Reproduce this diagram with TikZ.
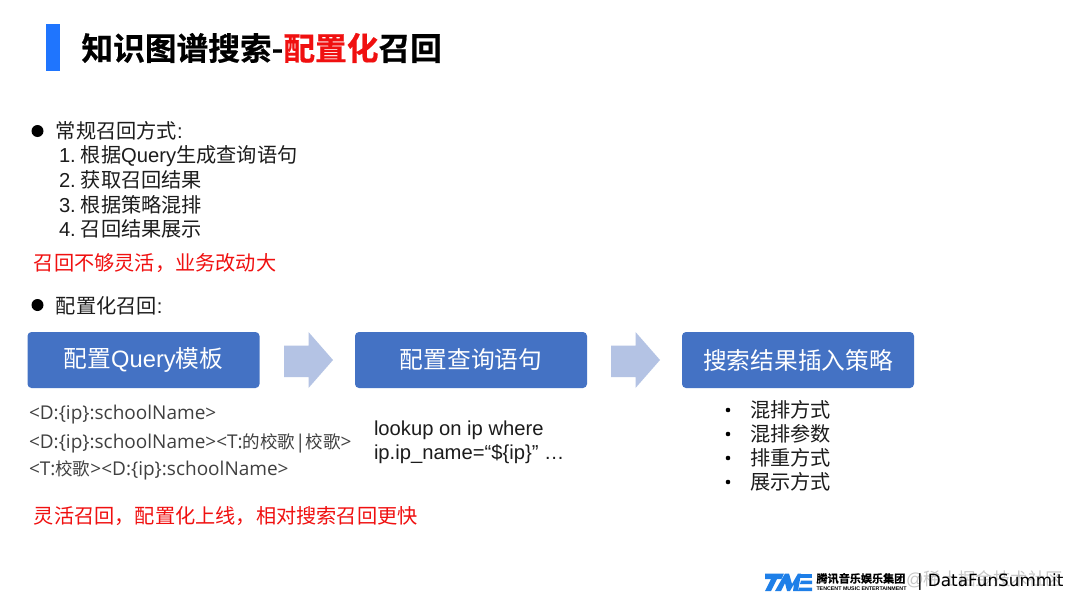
\documentclass[tikz,border=0pt]{standalone}
\usepackage{fontspec}
\setmainfont{Liberation Sans}
\newfontfamily\cjk{Noto Sans CJK SC}
\newfontfamily\cjkb[FakeBold=0.6]{Noto Sans CJK SC Bold}
\newfontfamily\opensans{Open Sans}
\newfontfamily\dejavu{DejaVu Sans}
\newcommand{\C}[1]{{\cjk #1}}
\newcommand{\Ct}[1]{{\cjk\fontsize{17.5}{20}\selectfont #1}}
\newcommand{\Lw}[1]{\raisebox{-1pt}{#1}}
\definecolor{boxblue}{HTML}{4472C4}
\definecolor{arrowblue}{HTML}{B4C3E4}
\definecolor{barblue}{HTML}{1F75FE}
\definecolor{redtxt}{HTML}{F01010}
\definecolor{graytxt}{HTML}{404040}
\definecolor{bodytxt}{HTML}{1C1C1C}
\definecolor{tmeblue}{HTML}{1E7FE8}
\tikzset{
  x=1pt,y=-1pt,
  txt/.style={anchor=west,inner sep=0pt,outer sep=0pt,text=bodytxt,font=\fontsize{20.2}{24}\selectfont},
  redline/.style={txt,text=redtxt,font=\fontsize{20.2}{24}\selectfont},
  tpl/.style={txt,text=graytxt,font=\opensans\fontsize{19}{20}\selectfont},
  bluebox/.style={fill=boxblue,rounded corners=4pt,minimum width=232pt,minimum height=56pt,inner sep=0pt,text=white,font=\fontsize{23.7}{28}\selectfont},
  flowarrow/.style={fill=arrowblue},
  dot/.style={circle,fill=black,minimum size=12pt,inner sep=0pt},
  sdot/.style={circle,fill=black,minimum size=4.6pt,inner sep=0pt},
}
\begin{document}
\begin{tikzpicture}
\useasboundingbox[fill=white] (0,0) rectangle (1080,608);
% title
\fill[barblue] (46,24) rectangle (60,71);
\node[txt,text=black,font=\fontsize{31.7}{36}\selectfont] (title) at (81.5,48) {{\cjkb 知识图谱搜索-\textcolor{redtxt}{配置化}召回}};
% first list
\node[dot] (b1) at (37.5,131) {};
\node[txt] (t1) at (56,131) {\C{常规召回方式}:};
\node[txt] (l1) at (59,156) {1.\hspace{5pt}\C{根据}Query\C{生成查询语句}};
\node[txt] (l2) at (59,180) {2.\hspace{5pt}\C{获取召回结果}};
\node[txt] (l3) at (59,205) {3.\hspace{5pt}\C{根据策略混排}};
\node[txt] (l4) at (59,229) {4.\hspace{5pt}\C{召回结果展示}};
\node[redline] (r1) at (34,263) {\C{召回不够灵活，业务改动大}};
\node[dot] (b2) at (37.5,305) {};
\node[txt] (t2) at (56,306) {\C{配置化召回}:};
% boxes
\node[bluebox] (q) at (143.5,360) {\Lw{\C{配置}Query\C{模板}}};
\node[bluebox] (s) at (471,360) {\C{配置查询语句}};
\node[bluebox] (c) at (798,360) {\C{搜索结果插入策略}};
\fill[flowarrow] (284,345.5) -- (308.5,345.5) -- (308.5,332) -- (333,360) -- (308.5,388) -- (308.5,377) -- (284,377) -- cycle;
\fill[flowarrow] (611,345.5) -- (635.5,345.5) -- (635.5,332) -- (660,360) -- (635.5,388) -- (635.5,377) -- (611,377) -- cycle;
% templates
\node[tpl] (p1) at (29,415) {<D:\{ip\}:schoolName>};
\node[tpl] (p2) at (29,443) {<D:\{ip\}:schoolName><T:\Ct{的校歌}|\Ct{校歌}>};
\node[tpl] (p3) at (29,470) {<T:\Ct{校歌}><D:\{ip\}:schoolName>};
% query
\node[txt] (k1) at (374,430.5) {lookup on ip where};
\node[txt] (k2) at (374,454.5) {ip.ip\_name=“\$\{ip\}” …};
% strategy list
\node[sdot] (d1) at (728,410) {};
\node[sdot] (d2) at (728,434) {};
\node[sdot] (d3) at (728,458) {};
\node[sdot] (d4) at (728,482) {};
\node[txt] (m1) at (750,410) {\C{混排方式}};
\node[txt] (m2) at (750,434) {\C{混排参数}};
\node[txt] (m3) at (750,458) {\C{排重方式}};
\node[txt] (m4) at (750,482) {\C{展示方式}};
\node[redline] (r2) at (34,516.5) {\C{灵活召回，配置化上线，相对搜索召回更快}};
% footer logo
\fill[tmeblue] (765,573.5) -- (784,573.5) -- (781.5,579) -- (777,579) -- (771,591) -- (765,591) -- (771,579) -- (765,579) -- cycle;
\fill[tmeblue] (775,591) -- (785,573.5) -- (789,573.5) -- (792,584) -- (798,573.5) -- (801,573.5) -- (798,591) -- (793,591) -- (794,584) -- (790,591) -- (787,591) -- (785,583) -- (781,591) -- cycle;
\fill[tmeblue] (800,573.5) -- (812,573.5) -- (812,577.5) -- (800,577.5) -- cycle;
\fill[tmeblue] (801,580.5) -- (812,580.5) -- (812,584) -- (800,584) -- cycle;
\fill[tmeblue] (799,587.5) -- (812,587.5) -- (812,591) -- (798,591) -- cycle;
\node[txt,text=black,font=\fontsize{11.1}{14}\selectfont] (tm1) at (816.5,578.5) {{\cjkb 腾讯音乐娱乐集团}};
\node[txt,text=black,font=\fontsize{5.3}{7}\bfseries\selectfont] (tm2) at (816.5,589) {TENCENT MUSIC ENTERTAINMENT};
\node[txt,text=black!22,font=\fontsize{17.4}{20}\selectfont] (wm) at (906,579) {@\C{稀土掘金技术社区}};
\node[txt,text=black,font=\dejavu\fontsize{16.8}{18}\selectfont] (df) at (917,582) {| DataFunSummit};
\end{tikzpicture}
\end{document}
